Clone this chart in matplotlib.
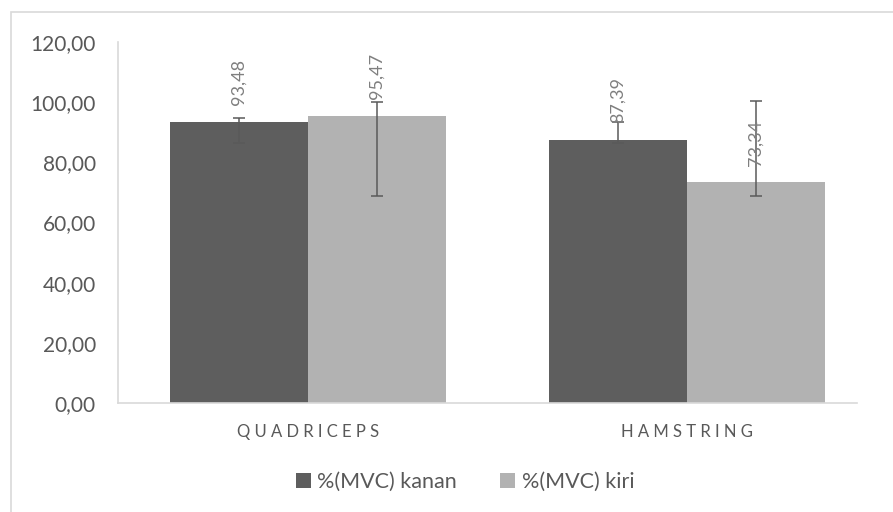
import numpy as np
import matplotlib.pyplot as plt
from matplotlib.patches import Rectangle

plt.rcParams['font.family'] = ['Lato', 'DejaVu Sans']

# data
categories = ["QUADRICEPS", "HAMSTRING"]
series_names = ["%(MVC) kanan", "%(MVC) kiri"]
kanan = [93.48, 87.39]
kiri = [95.47, 73.34]
# error bar ends (low, high)
kanan_low = [86.4, 86.4]
kanan_high = [94.8, 93.4]
kiri_low = [68.8, 68.8]
kiri_high = [100.0, 100.3]

colors = ["#5E5E5E", "#B2B2B2"]
txt = "#595959"

fig = plt.figure(figsize=(8.93, 5.12), dpi=100)
# outer chart border
fig.patches.append(Rectangle((11/893, -0.05), 1.0, 1 - 12/512 + 0.05,
                             transform=fig.transFigure, fill=False,
                             edgecolor="#D9D9D9", linewidth=1.2))
ax = fig.add_axes([118/893, 1 - 403/512, 739/893, 361/512])

x = np.arange(len(categories))
w = 0.364
for i, (vals, lo, hi) in enumerate([(kanan, kanan_low, kanan_high),
                                    (kiri, kiri_low, kiri_high)]):
    pos = x + (i - 0.5) * w
    ax.bar(pos, vals, width=w, color=colors[i], label=series_names[i], zorder=2)
    yerr = np.array([np.array(vals) - np.array(lo), np.array(hi) - np.array(vals)])
    ax.errorbar(pos, vals, yerr=yerr, fmt="none", ecolor="#5A5A5A",
                elinewidth=1.1, capsize=4.3, capthick=1.1, zorder=3)
    for p, v in zip(pos, vals):
        ax.annotate(f"{v:.2f}".replace(".", ","), (p, v), xytext=(0, 12),
                    textcoords="offset points", rotation=90, ha="center",
                    va="bottom", fontsize=13, color="#7F7F7F", zorder=4)

ax.set_xlim(-0.501, 1.449)
ax.set_ylim(0, 120)
ax.set_yticks(np.arange(0, 121, 20))
ax.set_yticklabels([f"{v:.2f}".replace(".", ",") for v in np.arange(0, 121, 20)])
ax.set_xticks(x)
ax.set_xticklabels([" ".join(c) for c in categories])

for s in ["top", "right"]:
    ax.spines[s].set_visible(False)
for s in ["left", "bottom"]:
    ax.spines[s].set_color("#D9D9D9")
    ax.spines[s].set_linewidth(1.2)
ax.tick_params(axis="both", length=0, colors=txt)
ax.tick_params(axis="x", labelsize=12, pad=15)
ax.tick_params(axis="y", labelsize=15, pad=16)

fig.legend(loc="center", bbox_to_anchor=(465/893, 1 - 482/512), ncol=2,
           frameon=False, fontsize=15.5, handlelength=0.7, handleheight=0.7,
           handletextpad=0.3, columnspacing=2.0, labelcolor=txt)

fig.savefig("out.png", dpi=100)
